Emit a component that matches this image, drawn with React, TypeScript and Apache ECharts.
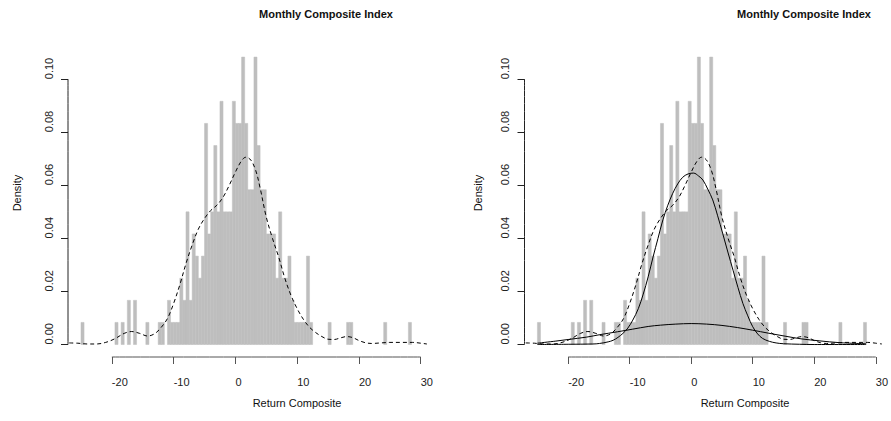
import React, { useEffect, useRef } from "react";
import * as echarts from "echarts";

// Histogram: lower edge of each 0.5-wide bin and its count (density step per count = 1/120)
const binStarts = [-25, -19.5, -18.5, -17.5, -16.5, -14.5, -12.5, -12, -11, -10.5, -10, -9.5, -9, -8.5, -8, -7.5, -7, -6.5, -6, -5.5, -5, -4.5, -4, -3.5, -3, -2.5, -2, -1.5, -1, -0.5, 0, 0.5, 1, 1.5, 2, 2.5, 3, 3.5, 4, 4.5, 5, 5.5, 6, 6.5, 7, 7.5, 8, 8.5, 9, 9.5, 10, 10.5, 11, 11.5, 12, 15, 18, 18.5, 24, 28];
const binCounts = [1, 1, 1, 2, 2, 1, 1, 1, 2, 1, 1, 1, 3, 2, 6, 2, 5, 4, 3, 4, 10, 5, 6, 9, 6, 11, 6, 6, 6, 11, 10, 10, 13, 10, 7, 7, 13, 9, 7, 7, 5, 5, 5, 3, 6, 3, 3, 4, 2, 1, 1, 1, 1, 4, 1, 1, 1, 1, 1, 1];
const BIN_WIDTH = 0.5;
const DENSITY_PER_COUNT = 0.008333;

// Kernel density estimate (dashed)
const kdeX = [-26.9, -25.5, -24, -22.5, -21, -19.5, -18, -16.8, -15.5, -14.2, -13, -12, -11, -10, -9, -8, -7, -6, -5, -4, -3, -2, -1, 0, 1, 1.7, 2.5, 3.3, 4, 5, 6, 7, 8, 9, 10, 11, 12, 13, 14, 15, 16, 17, 18, 19, 20, 21, 22, 23.5, 25, 27, 28.7, 30, 31];
const kdeY = [0.0006, 0.0005, 0.0002, 0.0002, 0.0008, 0.0022, 0.0042, 0.0049, 0.0042, 0.0032, 0.0042, 0.0065, 0.0098, 0.0155, 0.0225, 0.0305, 0.0375, 0.0435, 0.0475, 0.0505, 0.0525, 0.0555, 0.06, 0.065, 0.0693, 0.0706, 0.0695, 0.0655, 0.059, 0.048, 0.04, 0.033, 0.025, 0.0185, 0.0135, 0.0095, 0.0065, 0.0045, 0.003, 0.002, 0.0019, 0.0025, 0.003, 0.0026, 0.0015, 0.0007, 0.0004, 0.0006, 0.0008, 0.0008, 0.0008, 0.0005, 0.0002];

// Narrow mixture component (solid)
const narrowX = [-25, -20, -16, -14.9, -13.5, -12.7, -11.9, -11.1, -10.3, -9.5, -8.6, -7.8, -7, -6.2, -5.4, -4.6, -3.8, -3, -2.2, -1.4, -0.5, 0.4, 1.2, 1.9, 2.7, 3.5, 4.3, 5.1, 6, 6.8, 7.6, 8.4, 9.2, 10, 10.8, 11.6, 12.7, 13.8, 15, 17.6, 20, 28.4];
const narrowY = [0, 0.0001, 0.0002, 0.0004, 0.001, 0.0016, 0.0027, 0.0042, 0.0062, 0.0092, 0.0135, 0.019, 0.0255, 0.033, 0.04, 0.047, 0.0525, 0.057, 0.0605, 0.063, 0.0643, 0.0646, 0.0635, 0.062, 0.0585, 0.0545, 0.0485, 0.042, 0.0345, 0.028, 0.0215, 0.0155, 0.0108, 0.0067, 0.004, 0.0023, 0.0012, 0.0006, 0.0003, 0.0001, 0, 0];

// Wide mixture component (solid)
const wideX = [-25, -22, -20, -17, -14.9, -12, -9.5, -7, -5, -2.5, 0, 2.5, 5, 7.5, 10, 12.5, 15.4, 18, 20.8, 24.1, 28.4];
const wideY = [0.0005, 0.0013, 0.0019, 0.0028, 0.0037, 0.0048, 0.0058, 0.0068, 0.0073, 0.0077, 0.0079, 0.0077, 0.0072, 0.0064, 0.0054, 0.0043, 0.0031, 0.0021, 0.0014, 0.0007, 0.0003];

const xTicks = [-20, -10, 0, 10, 20, 30];
const yTicks = [0, 0.02, 0.04, 0.06, 0.08, 0.1];

const TITLE = "Monthly Composite Index";
const XLAB = "Return Composite";
const YLAB = "Density";

const X_MIN = -27.1;
const X_MAX = 31.5;
const Y_MIN = -0.0047;
const Y_MAX = 0.1125;
const FONT = "'Liberation Sans', Arial, Helvetica, sans-serif";

function zip(xs: number[], ys: number[]) {
  return xs.map((x, i) => [x, ys[i]]);
}

export default function App() {
  const ref = useRef<HTMLDivElement>(null);
  useEffect(() => {
    if (!ref.current) return;
    const chart = echarts.init(ref.current, null, { renderer: "svg" });
    const grids = [
      { left: 68, top: 46, width: 362, height: 311 },
      { left: 524.5, top: 46, width: 362, height: 311 },
    ];
    const xAxes = grids.map((_, i) => ({
      type: "value",
      gridIndex: i,
      min: X_MIN,
      max: X_MAX,
      position: "bottom",
      splitLine: { show: false },
      axisLine: { show: false, onZero: false },
      axisTick: { show: true, customValues: xTicks, length: 7, lineStyle: { color: "#555", width: 1 } },
      axisLabel: {
        show: true,
        customValues: xTicks,
        align: "left",
        margin: 19,
        fontSize: 11,
        color: "#222",
        fontFamily: FONT,
      },
    }));
    const yAxes = grids.map((_, i) => ({
      type: "value",
      gridIndex: i,
      min: Y_MIN,
      max: Y_MAX,
      position: "left",
      splitLine: { show: false },
      axisLine: { show: false, onZero: false },
      axisTick: { show: true, customValues: yTicks, length: 7, lineStyle: { color: "#222", width: 1 } },
      axisLabel: {
        show: true,
        customValues: yTicks,
        rotate: 90,
        align: "left",
        verticalAlign: "bottom",
        margin: 14,
        fontSize: 11,
        color: "#222",
        fontFamily: FONT,
        formatter: (v: number) => v.toFixed(2),
      },
    }));
    const histData = binStarts.map((s, i) => [s, binCounts[i] * DENSITY_PER_COUNT]);
    const histSeries = (i: number) => ({
      type: "custom",
      xAxisIndex: i,
      yAxisIndex: i,
      silent: true,
      data: histData,
      renderItem: (params: any, api: any) => {
        const x0 = api.value(0);
        const h = api.value(1);
        const p0 = api.coord([x0, h]);
        const p1 = api.coord([x0 + BIN_WIDTH, 0]);
        return {
          type: "rect",
          shape: { x: p0[0], y: p0[1], width: p1[0] - p0[0], height: p1[1] - p0[1] },
          style: { fill: "#bebebe", stroke: "#bebebe", lineWidth: 0.5 },
        };
      },
    });
    const lineSeries = (i: number, data: number[][], dashed: boolean, color = "#000") => ({
      type: "line",
      xAxisIndex: i,
      yAxisIndex: i,
      data,
      smooth: 0.35,
      symbol: "none",
      silent: true,
      clip: false,
      lineStyle: { color, width: 1, type: dashed ? [4, 3] : "solid" },
    });
    const axisLines = (i: number) => [
      lineSeries(i, [[xTicks[0], Y_MIN], [xTicks[xTicks.length - 1], Y_MIN]], false, "#555"),
      lineSeries(i, [[X_MIN, yTicks[0]], [X_MIN, yTicks[yTicks.length - 1]]], false, "#222"),
    ];
    const series: any[] = [
      histSeries(0),
      lineSeries(0, zip(kdeX, kdeY), true),
      ...axisLines(0),
      histSeries(1),
      lineSeries(1, zip(wideX, wideY), false),
      lineSeries(1, zip(narrowX, narrowY), false),
      lineSeries(1, zip(kdeX, kdeY), true),
      ...axisLines(1),
    ];
    const txt = (x: number, y: number, text: string, opts: any = {}) => ({
      type: "text",
      x,
      y,
      rotation: opts.rotation || 0,
      style: {
        text,
        fill: "#111",
        font: `${opts.bold ? "bold " : ""}${opts.size || 11}px ${FONT}`,
        textAlign: "center",
        textVerticalAlign: "middle",
      },
    });
    chart.setOption({
      animation: false,
      backgroundColor: "#fff",
      grid: grids,
      xAxis: xAxes,
      yAxis: yAxes,
      series,
      graphic: [
        txt(326, 14, TITLE, { bold: true, size: 11 }),
        txt(804, 14, TITLE, { bold: true, size: 11 }),
        txt(297, 403, XLAB, { size: 11 }),
        txt(745, 403, XLAB, { size: 11 }),
        txt(17, 193, YLAB, { size: 11, rotation: Math.PI / 2 }),
        txt(478, 193, YLAB, { size: 11, rotation: Math.PI / 2 }),
      ],
    });
    return () => chart.dispose();
  }, []);
  return (
    <div
      ref={ref}
      style={{ position: "fixed", left: 0, top: 0, width: 891, height: 421, background: "#fff" }}
    />
  );
}
